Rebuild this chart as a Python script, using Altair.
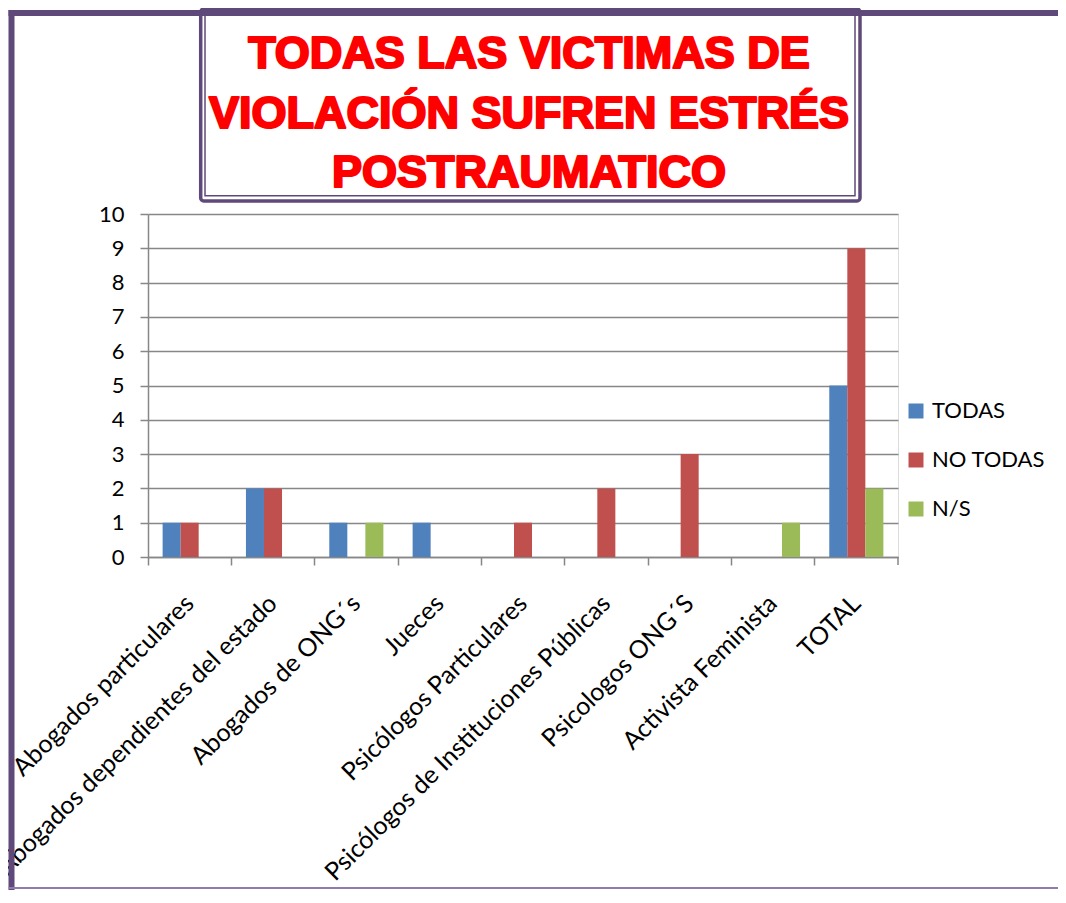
import altair as alt
import pandas as pd

CATEGORIES = [
    "Abogados particulares",
    "Abogados dependientes del estado",
    "Abogados de ONG´s",
    "Jueces",
    "Psicólogos Particulares",
    "Psicólogos de Instituciones Públicas",
    "Psicologos ONG´S",
    "Activista Feminista",
    "TOTAL",
]
SERIES = ["TODAS", "NO TODAS", "N/S"]
TODAS = [1, 2, 1, 1, 0, 0, 0, 0, 5]
NO_TODAS = [1, 2, 0, 0, 1, 2, 3, 0, 9]
NS = [0, 0, 1, 0, 0, 0, 0, 1, 2]
COLORS = ["#4F81BD", "#C0504D", "#9BBB59"]
TITLE_LINES = ["TODAS LAS VICTIMAS DE", "VIOLACIÓN SUFREN ESTRÉS", "POSTRAUMATICO"]
Y_TICKS = list(range(0, 11))

GRAY = "#878787"
PURPLE = "#5F497A"
W, H = 750, 343

rows = []
for i, c in enumerate(CATEGORIES):
    for s, vals in zip(SERIES, [TODAS, NO_TODAS, NS]):
        rows.append({"cat": c, "serie": s, "valor": vals[i]})
df = pd.DataFrame(rows)
one = pd.DataFrame({"k": [0]})

bars = alt.Chart(df).mark_bar().encode(
    x=alt.X(
        "cat:N",
        sort=CATEGORIES,
        title=None,
        scale=alt.Scale(paddingInner=0, paddingOuter=0),
        axis=alt.Axis(
            bandPosition=0,
            labelAngle=-45,
            labelAlign="right",
            labelBaseline="middle",
            tickSize=8,
            tickWidth=1.5,
            tickColor=GRAY,
            domainColor=GRAY,
            domainWidth=1.5,
            labelPadding=34,
            labelFont="Lato",
            labelFontSize=25,
            labelColor="black",
            labelLimit=0,
            labelOverlap=False,
            grid=False,
        ),
    ),
    xOffset=alt.XOffset(
        "serie:N", sort=SERIES, scale=alt.Scale(paddingOuter=0.81, paddingInner=0)
    ),
    y=alt.Y(
        "valor:Q",
        title=None,
        scale=alt.Scale(domain=[0, 10], nice=False),
        axis=alt.Axis(
            values=Y_TICKS,
            tickSize=8,
            tickWidth=1.5,
            tickColor=GRAY,
            domainColor=GRAY,
            domainWidth=1.5,
            grid=True,
            gridColor=GRAY,
            gridWidth=1.5,
            labelFont="Lato",
            labelFontSize=22,
            labelColor="black",
            labelPadding=16,
        ),
    ),
    color=alt.Color(
        "serie:N",
        sort=SERIES,
        scale=alt.Scale(domain=SERIES, range=COLORS),
        legend=alt.Legend(
            title=None,
            orient="none",
            legendX=757,
            legendY=186,
            symbolType="square",
            symbolSize=225,
            symbolStrokeWidth=0,
            labelFont="Lato",
            labelFontSize=22,
            labelColor="black",
            labelOffset=5,
            rowPadding=27,
            padding=0,
        ),
    ),
)

end_tick = alt.Chart(one).mark_rule(color=GRAY, strokeWidth=1.5).encode(
    x=alt.value(W), y=alt.value(H), y2=alt.value(H + 8)
)

box_outer = alt.Chart(one).mark_rect(
    fillOpacity=0, stroke=PURPLE, strokeWidth=3.5, cornerRadius=3
).encode(x=alt.value(52.7), x2=alt.value(712), y=alt.value(-205), y2=alt.value(-13))
box_inner = alt.Chart(one).mark_rect(
    fillOpacity=0, stroke=PURPLE, strokeWidth=1.5
).encode(x=alt.value(57), x2=alt.value(707), y=alt.value(-205), y2=alt.value(-18.2))

title_layers = []
for line, yb in zip(TITLE_LINES, [-146, -86, -27]):
    title_layers.append(
        alt.Chart(one).mark_text(
            text=line,
            font="Liberation Sans",
            fontWeight="bold",
            fontSize=45,
            color="#FF0000",
            stroke="#FF0000",
            strokeWidth=2.2,
            strokeJoin="round",
            align="center",
            baseline="alphabetic",
        ).encode(x=alt.value(381), y=alt.value(yb))
    )

frame_left = alt.Chart(one).mark_rule(color=PURPLE, strokeWidth=6).encode(
    x=alt.value(-136.5), y=alt.value(-204), y2=alt.value(H + 340)
)
frame_top = alt.Chart(one).mark_rule(color=PURPLE, strokeWidth=6).encode(
    x=alt.value(-139.5), x2=alt.value(W + 170), y=alt.value(-201)
)
frame_bottom = alt.Chart(one).mark_rule(color="#8E7CAB", strokeWidth=2).encode(
    x=alt.value(-139.5), x2=alt.value(W + 170), y=alt.value(H + 331)
)

chart = alt.layer(
    bars, end_tick, box_outer, box_inner, *title_layers, frame_left, frame_top, frame_bottom
).properties(
    width=W,
    height=H,
    autosize=alt.AutoSizeParams(type="none"),
    padding={"left": 140, "top": 206, "right": 160, "bottom": 333},
).configure_view(strokeWidth=0).configure(background="white")

chart.save("out.html", embed_options={"renderer": "svg", "actions": False})
